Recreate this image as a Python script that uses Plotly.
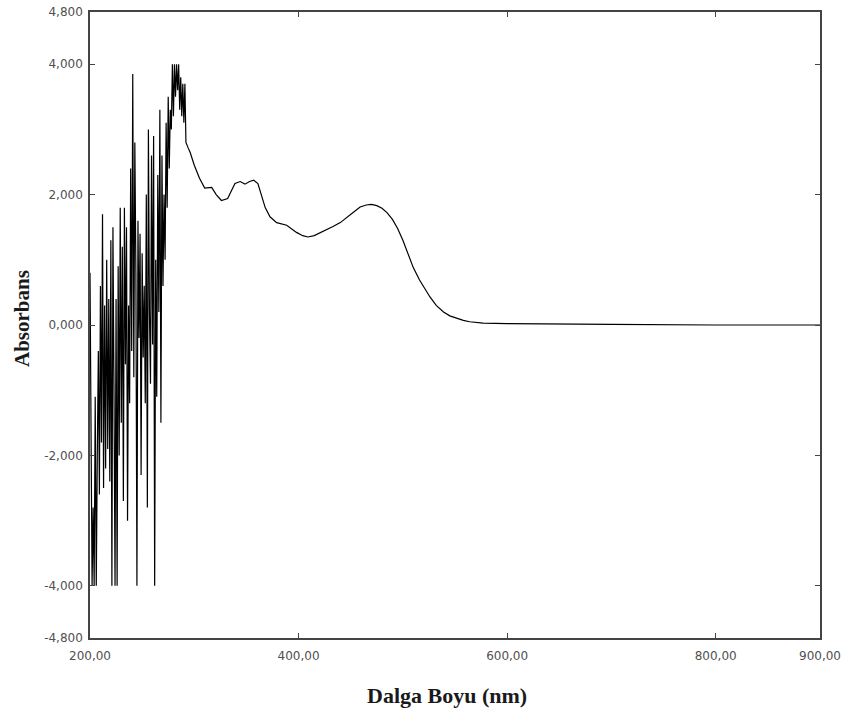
import plotly.graph_objects as go

# Wavelength (nm) and absorbance
wavelength = [
    200, 201, 202, 203, 204, 205, 206, 207, 208, 209,
    210, 211, 212, 213, 214, 215, 216, 217, 218, 219,
    220, 221, 222, 223, 224, 225, 226, 227, 228, 229,
    230, 231, 232, 233, 234, 235, 236, 237, 238, 239,
    240, 241, 242, 243, 244, 245, 246, 247, 248, 249,
    250, 251, 252, 253, 254, 255, 256, 257, 258, 259,
    260, 261, 262, 263, 264, 265, 266, 267, 268, 269,
    270, 271, 272, 273, 274, 275, 276, 277, 278, 279,
    280, 281, 282, 283, 284, 285, 286, 287, 288, 289,
    290, 291, 292,
    294, 296, 300, 305, 310, 316.7, 321, 326, 332, 336,
    339, 344, 348.6, 353, 357, 361, 364, 368, 372.6, 379,
    388.6, 393, 398, 404, 409, 415, 420.5, 427, 433, 440,
    446, 452, 459, 465, 470, 475, 480, 485, 490, 495,
    500, 505, 510, 516, 521, 526, 532, 539, 545, 552,
    558, 564, 577, 600, 630, 700, 800, 900,
]
absorbance = [
    0.8, -1.5, -4.0, -2.8, -4.0, -1.1, -4.0, -2.0, -0.4, -2.6,
    0.6, -1.8, 1.7, -2.5, 0.3, -2.2, 1.0, -1.9, 0.4, -2.4,
    1.3, -4.0, 1.5, -1.0, -4.0, 0.4, -4.0, 0.9, -2.0, 1.8,
    -1.5, 1.2, -2.7, 1.8, -0.6, 1.5, -3.0, 0.3, -1.2, 2.4,
    -0.4, 3.85, -0.8, 2.8, 0.8, -4.0, 1.6, -0.2, 1.4, -2.3,
    1.1, -0.5, 0.6, -1.2, 2.0, -2.8, 3.0, 0.2, -0.9, 2.6,
    -0.3, 2.9, -4.0, 1.0, -1.1, 2.3, 0.2, 3.3, -1.5, 2.6,
    0.6, 2.0, 1.0, 3.1, 1.8, 3.5, 2.4, 3.3, 3.0, 4.0,
    3.2, 4.0, 3.5, 4.0, 3.6, 4.0, 3.3, 3.8, 3.2, 3.7,
    3.1, 3.7, 2.8,
    2.72, 2.65, 2.45, 2.25, 2.10, 2.11, 2.00, 1.91, 1.94, 2.08,
    2.17, 2.20, 2.16, 2.20, 2.22, 2.17, 2.00, 1.80, 1.66, 1.57,
    1.53, 1.48, 1.42, 1.37, 1.35, 1.37, 1.41, 1.46, 1.51, 1.57,
    1.64, 1.72, 1.81, 1.84, 1.85, 1.83, 1.79, 1.72, 1.62, 1.48,
    1.30, 1.08, 0.88, 0.69, 0.55, 0.43, 0.30, 0.20, 0.14, 0.10,
    0.07, 0.05, 0.03, 0.02, 0.02, 0.01, 0.0, 0.0,
]

x_ticks = [200, 400, 600, 800, 900]
x_tick_labels = ["200,00", "400,00", "600,00", "800,00", "900,00"]
y_ticks = [-4.8, -4, -2, 0, 2, 4, 4.8]
y_tick_labels = ["-4,800", "-4,000", "-2,000", "0,000", "2,000", "4,000", "4,800"]
x_title = "Dalga Boyu (nm)"
y_title = "Absorbans"

fig = go.Figure()
fig.add_trace(go.Scatter(
    x=wavelength, y=absorbance, mode="lines",
    line=dict(color="black", width=1.2),
    showlegend=False,
))

axis_common = dict(
    showline=True, mirror="ticks", linecolor="#444", linewidth=1.5,
    ticks="inside", ticklen=5, tickcolor="#444", tickwidth=1.2,
    showgrid=False, zeroline=False, automargin=False,
    tickfont=dict(family="DejaVu Sans", size=12, color="#505050"),
)

fig.update_layout(
    width=843, height=718,
    margin=dict(l=90, r=23, t=12, b=80),
    paper_bgcolor="white", plot_bgcolor="white",
    xaxis=dict(range=[200, 900], tickvals=x_ticks, ticktext=x_tick_labels,
               ticklabelstandoff=6, **axis_common),
    yaxis=dict(range=[-4.8, 4.8], tickvals=y_ticks, ticktext=y_tick_labels,
               ticklabelstandoff=3, **axis_common),
    annotations=[
        dict(text="<b>" + x_title + "</b>", xref="paper", yref="paper",
             x=(447 - 90) / 730, y=-(695 - 638) / 626, xanchor="center", yanchor="middle",
             showarrow=False, font=dict(family="Liberation Serif", size=22, color="#1a1a1a")),
        dict(text="<b>" + y_title + "</b>", xref="paper", yref="paper", textangle=-90,
             x=-(90 - 22) / 730, y=(638 - 319) / 626, xanchor="center", yanchor="middle",
             showarrow=False, font=dict(family="Liberation Serif", size=21, color="#1a1a1a")),
    ],
)

fig.write_html("out.html")
